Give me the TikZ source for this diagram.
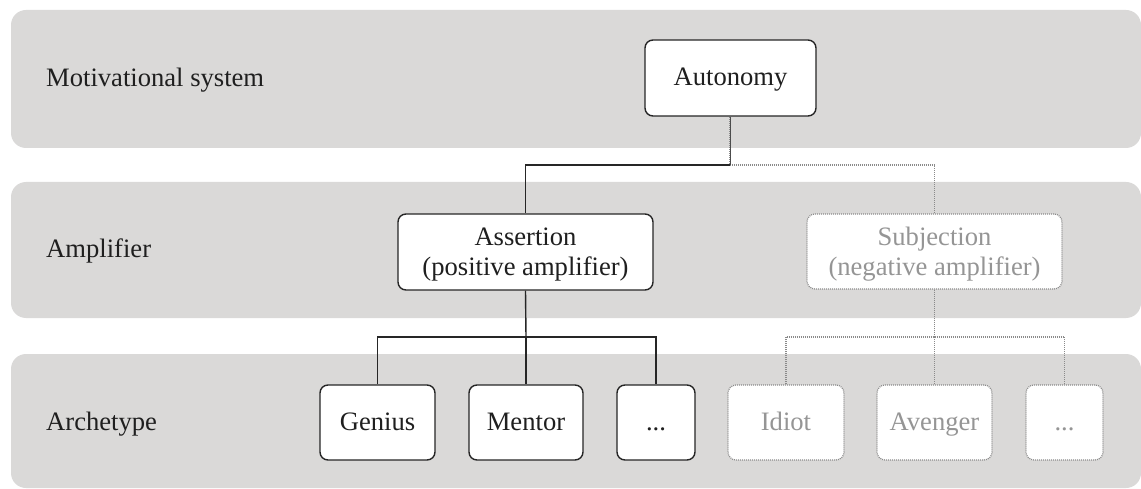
\documentclass[tikz,border=0pt]{standalone}
\usepackage{fontspec}
\setmainfont{Liberation Serif}
\begin{document}
\begin{tikzpicture}[x=1pt,y=-1pt,
  band/.style={fill=bandgray,draw=none,rounded corners=15pt},
  lbl/.style={anchor=base west,inner sep=0pt,text=black!88,font=\fontsize{26.6}{30}\selectfont},
  posbox/.style={draw=black!85,line width=1.4pt,fill=white,rounded corners=8pt,
    minimum height=75pt,inner sep=0pt,align=center,text=black!88,
    text height=20pt,text depth=4pt,
    font=\fontsize{26.6}{30}\selectfont},
  negbox/.style={posbox,draw=dotgray,line width=1.2pt,dash pattern=on 1pt off 1pt,text=textgray},
  twoline/.style={text height=52pt,text depth=4pt},
  conn/.style={draw=black!85,line width=1.4pt},
  dconn/.style={draw=dotgray,line width=1.2pt,dash pattern=on 1pt off 1pt}]
\definecolor{bandgray}{HTML}{DAD9D8}
\definecolor{dotgray}{HTML}{8A8A8A}
\definecolor{textgray}{HTML}{959595}
\useasboundingbox (0,0) rectangle (1141,489);
% bands
\path[band] (11,10) rectangle (1141,148);
\path[band] (11,182) rectangle (1141,318);
\path[band] (11,354) rectangle (1141,488);
% row labels
\node[lbl] (lmot) at (46,87) {Motivational system};
\node[lbl] (lamp) at (46,258) {Amplifier};
\node[lbl] (larc) at (46,430) {Archetype};
% nodes
\node[posbox,minimum width=171pt,minimum height=76pt] (auto) at (730.5,78) {Autonomy};
\node[posbox,twoline,minimum width=255pt,minimum height=76pt] (assert) at (525.5,252) {Assertion\\(positive amplifier)};
\node[negbox,twoline,minimum width=255pt] (subj) at (934.5,251.5) {Subjection\\(negative amplifier)};
\node[posbox,minimum width=115pt] (genius) at (377.5,422.5) {Genius};
\node[posbox,minimum width=114pt] (mentor) at (526,422.5) {Mentor};
\node[posbox,minimum width=78pt] (pdots) at (656,422.5) {...};
\node[negbox,minimum width=116pt] (idiot) at (786,422.5) {Idiot};
\node[negbox,minimum width=115pt] (aveng) at (934.5,422.5) {Avenger};
\node[negbox,minimum width=77pt] (ndots) at (1064.5,422.5) {...};
% junction coordinates
\coordinate (j1) at (730,165);
\coordinate (j2) at (526,337);
\coordinate (j3) at (934.5,337);
% connectors
\draw[dconn] (auto.south -| j1) -- (j1) -| (subj.north);
\draw[conn,line width=0.8pt,draw=black!70] (auto.south -| j1) -- (j1);
\draw[conn] (j1) -| (assert.north);
\draw[conn] (assert.south) -- (j2);
\draw[conn] (genius.north) |- (j2) -| (pdots.north);
\draw[conn] (j2) -- (mentor.north);
\draw[dconn] (subj.south) -- (j3);
\draw[dconn] (idiot.north) |- (j3) -| (ndots.north);
\draw[dconn] (j3) -- (aveng.north);
\end{tikzpicture}
\end{document}
